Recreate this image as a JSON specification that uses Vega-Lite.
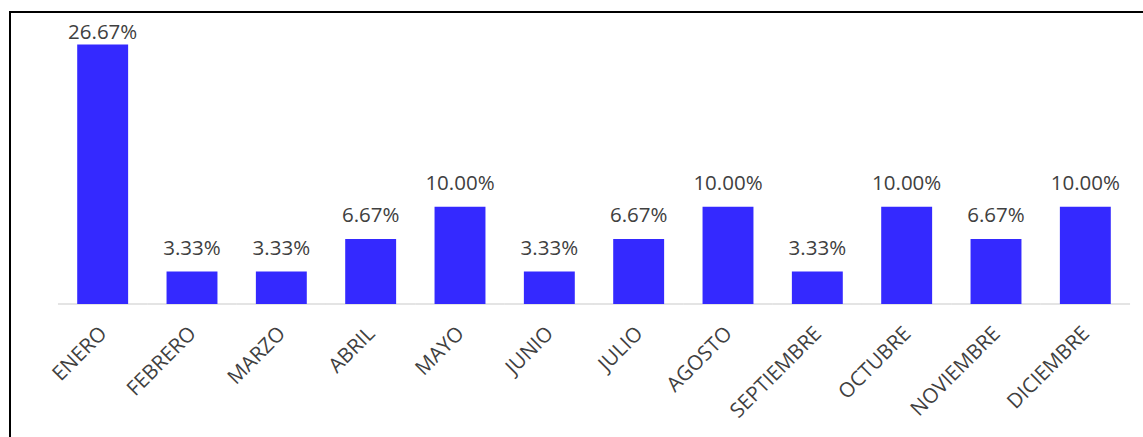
{
  "$schema": "https://vega.github.io/schema/vega-lite/v6.json",
  "width": 1143,
  "height": 437,
  "autosize": {"type": "none"},
  "padding": {"left": 10, "top": 12, "right": 0, "bottom": 0},
  "background": "white",
  "config": {
    "view": {"stroke": "black", "strokeWidth": 2},
    "font": "Open Sans"
  },
  "data": {
    "values": [
      {"mes": "ENERO", "pct": 0.2667},
      {"mes": "FEBRERO", "pct": 0.0333},
      {"mes": "MARZO", "pct": 0.0333},
      {"mes": "ABRIL", "pct": 0.0667},
      {"mes": "MAYO", "pct": 0.1},
      {"mes": "JUNIO", "pct": 0.0333},
      {"mes": "JULIO", "pct": 0.0667},
      {"mes": "AGOSTO", "pct": 0.1},
      {"mes": "SEPTIEMBRE", "pct": 0.0333},
      {"mes": "OCTUBRE", "pct": 0.1},
      {"mes": "NOVIEMBRE", "pct": 0.0667},
      {"mes": "DICIEMBRE", "pct": 0.1}
    ]
  },
  "encoding": {
    "x": {
      "field": "mes",
      "type": "nominal",
      "sort": null,
      "scale": {"range": [48, 1120], "paddingInner": 0.43, "paddingOuter": 0.215},
      "axis": {
        "title": null,
        "domain": false,
        "ticks": false,
        "labelAngle": -45,
        "labelFontSize": 20.5,
        "labelColor": "#404040",
        "labelFont": "Open Sans",
        "labelPadding": 19,
        "labelOffset": -6,
        "offset": -145
      }
    }
  },
  "layer": [
    {
      "mark": {"type": "tick", "color": "#d9d9d9", "thickness": 2, "size": 89.4, "orient": "horizontal"},
      "encoding": {"y": {"datum": 0, "type": "quantitative", "scale": {"domain": [0, 0.3], "range": [292, 0]}, "axis": null}}
    },
    {
      "mark": {"type": "bar", "color": "#3429FF"},
      "encoding": {"y": {"field": "pct", "type": "quantitative", "scale": {"domain": [0, 0.3], "range": [292, 0]}, "axis": null}}
    },
    {
      "transform": [{"filter": "datum.pct < 0.2"}],
      "mark": {"type": "text", "baseline": "alphabetic", "dy": -17, "fontSize": 20.5, "color": "#404040"},
      "encoding": {
        "y": {"field": "pct", "type": "quantitative", "scale": {"domain": [0, 0.3], "range": [292, 0]}, "axis": null},
        "text": {"field": "pct", "type": "quantitative", "format": ".2%"}
      }
    },
    {
      "transform": [{"filter": "datum.pct >= 0.2"}],
      "mark": {"type": "text", "baseline": "alphabetic", "dy": -5, "fontSize": 20.5, "color": "#404040"},
      "encoding": {
        "y": {"field": "pct", "type": "quantitative", "scale": {"domain": [0, 0.3], "range": [292, 0]}, "axis": null},
        "text": {"field": "pct", "type": "quantitative", "format": ".2%"}
      }
    }
  ]
}
